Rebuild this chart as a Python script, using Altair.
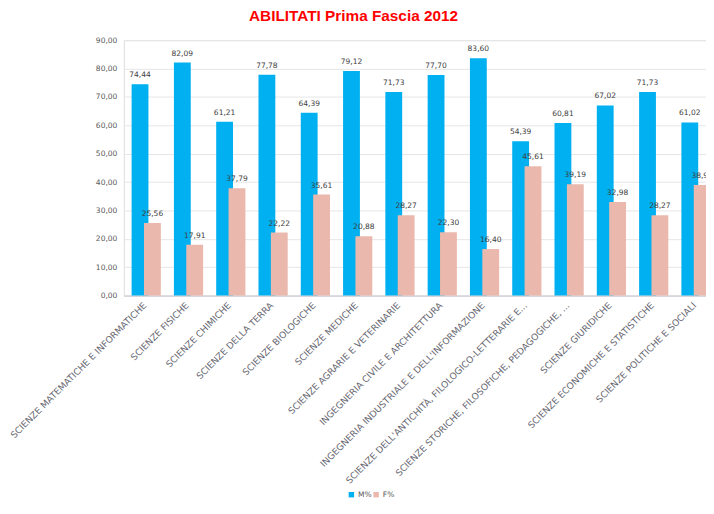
import altair as alt
import pandas as pd

categories = [
    "SCIENZE MATEMATICHE E INFORMATICHE",
    "SCIENZE FISICHE",
    "SCIENZE CHIMICHE",
    "SCIENZE DELLA TERRA",
    "SCIENZE BIOLOGICHE",
    "SCIENZE MEDICHE",
    "SCIENZE AGRARIE E VETERINARIE",
    "INGEGNERIA CIVILE E ARCHITETTURA",
    "INGEGNERIA INDUSTRIALE  E DELL'INFORMAZIONE",
    "SCIENZE DELL'ANTICHITÀ,  FILOLOGICO-LETTERARIE  E...",
    "SCIENZE STORICHE, FILOSOFICHE, PEDAGOGICHE, ...",
    "SCIENZE GIURIDICHE",
    "SCIENZE ECONOMICHE E STATISTICHE",
    "SCIENZE POLITICHE E SOCIALI",
]
m_values = [74.44, 82.09, 61.21, 77.78, 64.39, 79.12, 71.73, 77.70, 83.60, 54.39, 60.81, 67.02, 71.73, 61.02]
f_values = [25.56, 17.91, 37.79, 22.22, 35.61, 20.88, 28.27, 22.30, 16.40, 45.61, 39.19, 32.98, 28.27, 38.98]
series = ["M%", "F%"]
colors = ["#00B0F0", "#EAB8AC"]
y_ticks = [0, 10, 20, 30, 40, 50, 60, 70, 80, 90]

df = pd.DataFrame({"cat": categories, "M": m_values, "F": f_values})

FONT = "DejaVu Sans"

x_axis = alt.Axis(
    labelAngle=-45,
    labelAlign="right",
    labelBaseline="middle",
    labelPadding=8,
    labelFontSize=9.2,
    labelFont=FONT,
    labelColor="#666670",
    labelLimit=400,
    labelOverlap=False,
    ticks=False,
    domain=True,
    domainColor="#c8c8d4",
    domainWidth=1,
    grid=False,
    gridOpacity=0,
)
x_scale = alt.Scale(range=[0, 598], paddingInner=0, paddingOuter=0)

y_axis = alt.Axis(
    values=y_ticks,
    labelExpr="replace(format(datum.value, '.2f'), '.', ',')",
    labelFontSize=7.6,
    labelFont=FONT,
    labelColor="#595959",
    labelPadding=7,
    labelOverlap=False,
    ticks=False,
    domain=False,
    domainColor="transparent",
    domainOpacity=0,
    gridColor="#e6e6e6",
    gridWidth=1,
)
y_scale = alt.Scale(domain=[0, 90], nice=False)


def xe():
    return alt.X("cat:N", sort=categories, title=None, scale=x_scale, axis=x_axis)


def ye(field):
    return alt.Y(field, title=None, scale=y_scale, axis=y_axis)


color_enc = alt.Color(
    "s:N",
    scale=alt.Scale(domain=series, range=colors),
    legend=alt.Legend(
        title=None,
        orient="none",
        direction="horizontal",
        legendX=226,
        legendY=455,
        symbolType="square",
        symbolSize=30,
        symbolStrokeWidth=0,
        labelFontSize=7.6,
        labelFont=FONT,
        labelColor="#595959",
        columnPadding=0,
        labelOffset=3,
        padding=0,
    ),
)

base = alt.Chart(df)

m_bar = base.mark_bar(width=17, xOffset=-5).encode(
    x=xe(), y=ye("M:Q"), color=color_enc
).transform_calculate(s="'M%'")

f_bar = base.mark_bar(width=17, xOffset=7.5).encode(
    x=xe(), y=ye("F:Q"), color=color_enc
).transform_calculate(s="'F%'")

m_text = base.mark_text(
    xOffset=-5, dy=-5, baseline="bottom", fontSize=7.6, font=FONT, color="#404040"
).encode(
    x=xe(), y=ye("M:Q"), text=alt.Text("M_lab:N")
).transform_calculate(M_lab="replace(format(datum.M, '.2f'), '.', ',')")

f_text = base.mark_text(
    xOffset=7.5, dy=-5, baseline="bottom", fontSize=7.6, font=FONT, color="#404040"
).encode(
    x=xe(), y=ye("F:Q"), text=alt.Text("F_lab:N")
).transform_calculate(F_lab="replace(format(datum.F, '.2f'), '.', ',')")

chart = (
    alt.layer(m_bar, f_bar, m_text, f_text)
    .properties(
        width=588,
        height=258,
        autosize=alt.AutoSizeParams(type="none"),
        padding={"left": 117, "top": 30, "right": 0, "bottom": 206},
        title=alt.TitleParams(
            "ABILITATI  Prima Fascia 2012",
            font="Liberation Sans",
            fontSize=15.5,
            fontWeight="bold",
            color="#FF0000",
            anchor="middle",
            dx=-62,
            offset=12,
        ),
    )
    .configure_view(stroke="transparent", strokeWidth=0)
    .configure_axisY(domain=False, domainOpacity=0)
    .configure_axisX(grid=False)
    .configure(background="white")
)

chart.save("out.html", embed_options={"renderer": "svg", "actions": False})
